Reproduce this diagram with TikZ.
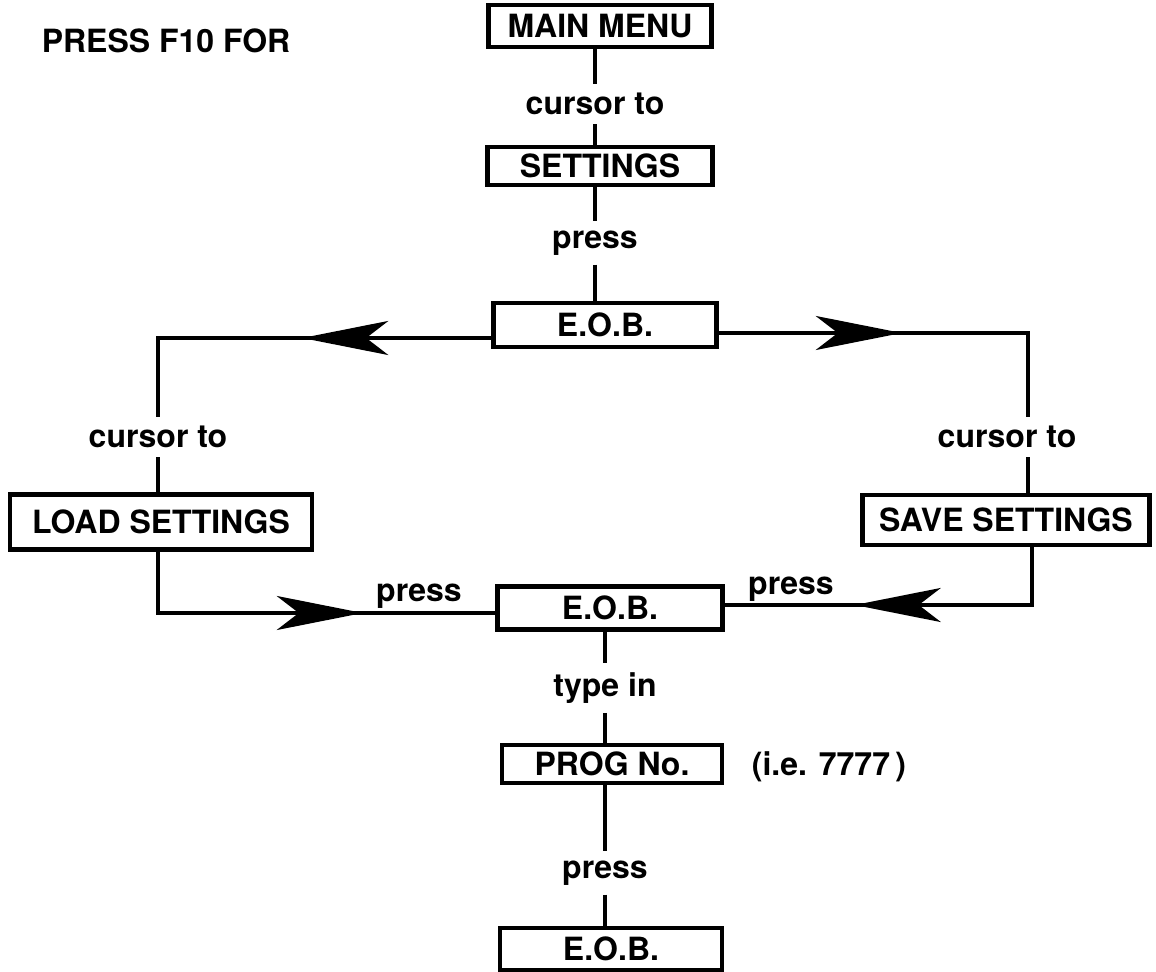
\documentclass[tikz,border=0pt]{standalone}
\usepackage{fontspec}
\setmainfont{TeX Gyre Heros}
\usetikzlibrary{arrows.meta,decorations.markings}

\tikzset{
  box/.style={draw, line width=2.3pt, inner sep=0pt},
  lbl/.style={inner xsep=2pt, inner ysep=4.5pt},
  conn/.style={line width=2.1pt, line join=miter},
  barb/.style={postaction={decorate},
    decoration={markings,
      mark=at position #1 with {\arrow{Stealth[length=43pt,width=17pt,inset=11pt]}}}},
}

\begin{document}
\begin{tikzpicture}[x=0.5pt, y=-0.5pt, font=\fontsize{16}{19}\selectfont\bfseries]
  \useasboundingbox (0,0) rectangle (1156,972);

  % title
  \node (title) at (166,41) {PRESS F10 FOR};

  % menu boxes
  \node[box, minimum width=111.5pt, minimum height=21pt]   (mainmenu) at (600,26)  {MAIN MENU};
  \node[box, minimum width=112.5pt, minimum height=19pt]   (settings) at (600,166) {SETTINGS};
  \node[box, minimum width=111.5pt, minimum height=22pt]   (eob1)     at (605,325) {E.O.B.};
  \node[box, minimum width=151pt,   minimum height=27.5pt] (load)     at (161,522) {LOAD SETTINGS};
  \node[box, minimum width=143.5pt, minimum height=25pt]   (save)     at (1006,520) {SAVE SETTINGS};
  \node[box, minimum width=112.5pt, minimum height=21.5pt] (eob2)     at (610,608) {E.O.B.};
  \node[box, minimum width=110pt,   minimum height=19pt]   (prog)     at (612,764) {PROG No.};
  \node[box, minimum width=111pt,   minimum height=21pt]   (eob3)     at (611,949) {E.O.B.};

  % key labels on the connectors
  \node[lbl] (ct1) at (595,104)  {cursor to};
  \node[lbl] (pr1) at (595,243)  {press};
  \node[lbl] (ctl) at (158,437)  {cursor to};
  \node[lbl] (ctr) at (1007,437) {cursor to};
  \node[lbl, anchor=base] (prl) at (419,602) {press};
  \node[lbl, anchor=base] (prr) at (791,595) {press};
  \node[lbl] (ti)  at (605,688)  {type in};
  \node[lbl] (pr3) at (605,873)  {press};
  \node (hint) at (829,767) {(i.e. 7777\,)};

  % main trunk
  \draw[conn] (mainmenu.south -| ct1.north) -- (ct1.north);
  \draw[conn] (ct1.south) -- (ct1.south |- settings.north);
  \draw[conn] (settings.south -| pr1.north) -- (pr1.north);
  \draw[conn] (pr1.south) -- (pr1.south |- eob1.north);

  % left branch: load settings
  \draw[conn, barb=94.5pt] ([yshift=-6.5pt]eob1.west) -| (ctl.north);
  \draw[conn] (ctl.south) -- (ctl.south |- load.north);
  \draw[conn, barb=133pt] (ctl.south |- load.south) |- ([yshift=-2.5pt]eob2.west);

  % right branch: save settings
  \draw[conn, barb=91.5pt] ([yshift=-4pt]eob1.east) -| ([xshift=10.5pt]ctr.north);
  \draw[conn] ([xshift=10.5pt]ctr.south) -- ([xshift=10.5pt]ctr.south |- save.north);
  \draw[conn, barb=117.5pt] ([xshift=12.5pt]ctr.south |- save.south) |- ([yshift=1.5pt]eob2.east);

  % lower trunk
  \draw[conn] (eob2.south -| ti.north) -- (ti.north);
  \draw[conn] (ti.south) -- (ti.south |- prog.north);
  \draw[conn] (prog.south -| pr3.north) -- (pr3.north);
  \draw[conn] (pr3.south) -- (pr3.south |- eob3.north);
\end{tikzpicture}
\end{document}
